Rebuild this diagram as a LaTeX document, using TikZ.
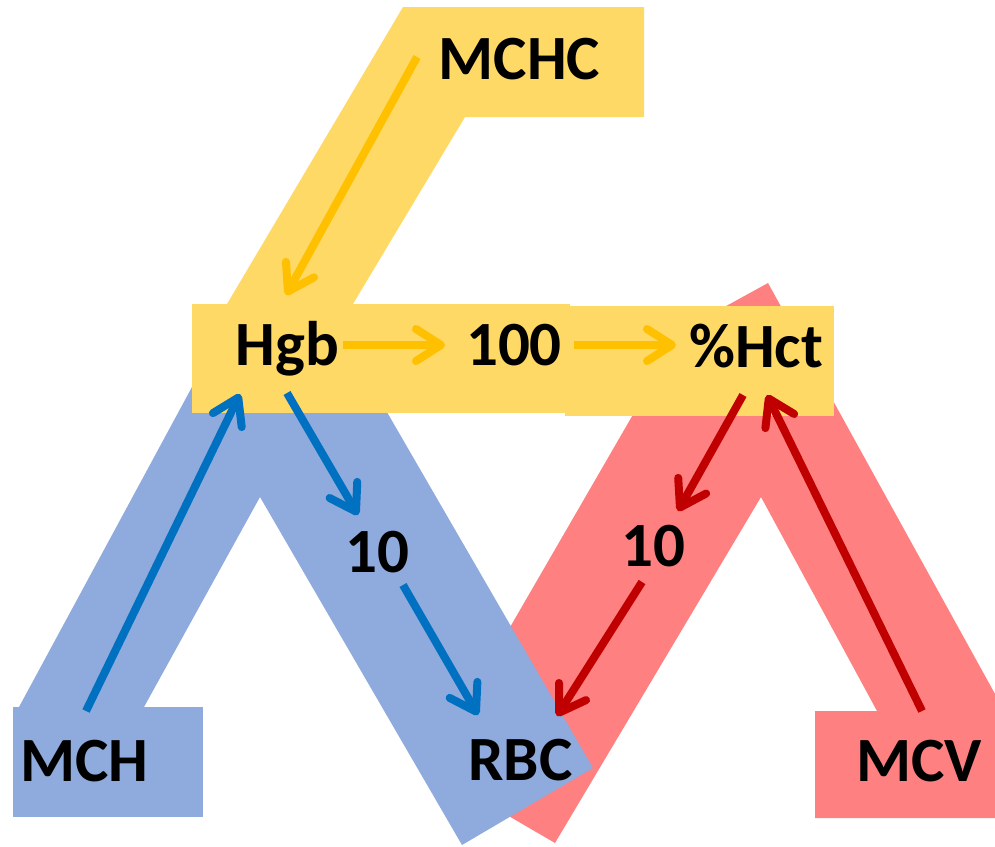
\documentclass[tikz,border=0pt]{standalone}
\usepackage{fontspec}
\setmainfont{Carlito}
\usetikzlibrary{arrows.meta}
\definecolor{yfill}{RGB}{255,217,102}
\definecolor{bfill}{RGB}{143,170,220}
\definecolor{rfill}{RGB}{255,128,128}
\definecolor{yarr}{RGB}{255,192,0}
\definecolor{barr}{RGB}{0,112,192}
\definecolor{rarr}{RGB}{192,0,0}
\begin{document}
\begin{tikzpicture}[x=1pt,y=-1pt,
  lbl/.style={font=\fontsize{63}{75}\selectfont\bfseries, anchor=base, inner sep=0pt},
  conn/.style={line width=8pt, -{Straight Barb[length=25pt,width=32pt,round]}}]
\useasboundingbox (0,0) rectangle (995,846);
\begin{scope}
\clip (0,0) rectangle (995,846);
% red band
\fill[rfill] (428,769) -- (653,380) -- (673.5,335) -- (768,283) -- (1000,703) -- (1000,818)
  -- (815,818) -- (815,711) -- (877,711) -- (761,497) -- (555,843) -- cycle;
% blue band
\fill[bfill] (19,707) -- (212,350) -- (351,350) -- (593,768) -- (462,845) -- (260,497) -- (144,707) -- cycle;
\fill[bfill] (13,707) rectangle (203,817);
% yellow band
\fill[yfill] (403,7) -- (644,7) -- (644,117) -- (465,117) -- (353,304) -- (227,304) -- cycle;
\fill[yfill] (192,304) rectangle (570,413);
\fill[yfill] (565,306) rectangle (834,416);
\end{scope}
% labels
\node[lbl] (mchc) at (519.5,79) {MCHC};
\node[lbl] (hgb) at (287.5,365) {Hgb};
\node[lbl] (hundred) at (514,365) {100};
\node[lbl] (hct) at (756,367) {\%Hct};
\node[lbl] (tenb) at (377.5,572) {10};
\node[lbl] (tenr) at (653,566) {10};
\node[lbl] (mch) at (84.5,781) {MCH};
\node[lbl] (rbc) at (520.5,780) {RBC};
\node[lbl] (mcv) at (919,781) {MCV};
% arrow end points
\coordinate (a1s) at (417,57);  \coordinate (a1e) at (286,295);
\coordinate (a2s) at (343,345); \coordinate (a2e) at (445,345);
\coordinate (a3s) at (574,345); \coordinate (a3e) at (676,345);
\coordinate (b1s) at (86,711);  \coordinate (b1e) at (240,394);
\coordinate (b2s) at (287,393); \coordinate (b2e) at (358,515);
\coordinate (b3s) at (403,585); \coordinate (b3e) at (478,715);
\coordinate (r1s) at (743,395); \coordinate (r1e) at (678,511);
\coordinate (r2s) at (642,582); \coordinate (r2e) at (557,716);
\coordinate (r3s) at (922,711); \coordinate (r3e) at (767,395);
% arrows
\draw[conn, yarr] (a1s) -- (a1e);
\draw[conn, yarr] (a2s) -- (a2e);
\draw[conn, yarr] (a3s) -- (a3e);
\draw[conn, barr] (b1s) -- (b1e);
\draw[conn, barr] (b2s) -- (b2e);
\draw[conn, barr] (b3s) -- (b3e);
\draw[conn, rarr] (r1s) -- (r1e);
\draw[conn, rarr] (r2s) -- (r2e);
\draw[conn, rarr] (r3s) -- (r3e);
\end{tikzpicture}
\end{document}
